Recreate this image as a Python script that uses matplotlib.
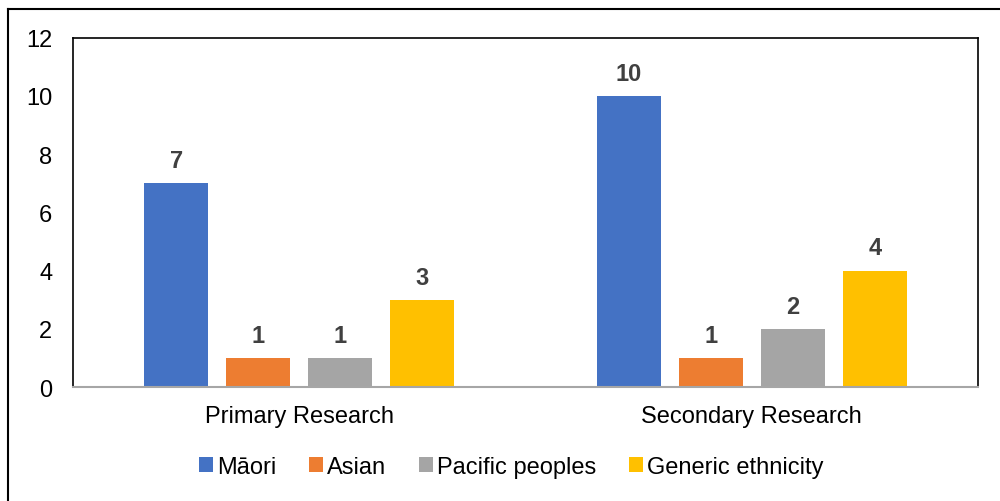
import matplotlib
matplotlib.use("Agg")
import matplotlib.pyplot as plt
from matplotlib.lines import Line2D
import numpy as np

plt.rcParams['font.family'] = ['Liberation Sans', 'DejaVu Sans']

categories = ["Primary Research", "Secondary Research"]
series_names = ["Māori", "Asian", "Pacific peoples", "Generic ethnicity"]
maori = [7, 10]
asian = [1, 1]
pacific = [1, 2]
generic = [3, 4]
y_ticks = [0, 2, 4, 6, 8, 10, 12]

colors = ["#4472C4", "#ED7D31", "#A5A5A5", "#FFC000"]
values = [maori, asian, pacific, generic]

fig = plt.figure(figsize=(10, 5.02), dpi=100)
ax = fig.add_axes([0.073, 0.227, 0.905, 0.696])

x = np.arange(len(categories))
width = 0.1416
step = 0.1814
offsets = (np.arange(4) - 1.5) * step

for vals, off, col, name in zip(values, offsets, colors, series_names):
    bars = ax.bar(x + off, vals, width, color=col, label=name, zorder=2)
    for b, v in zip(bars, vals):
        ax.annotate(str(v), (b.get_x() + b.get_width() / 2, v),
                    xytext=(0, 8), textcoords="offset points",
                    ha="center", va="bottom", fontsize=17,
                    fontweight="bold", color="#404040")

ax.set_xlim(-0.5, 1.5)
ax.set_ylim(0, 12)
ax.set_yticks(y_ticks)
ax.set_yticklabels([str(t) for t in y_ticks], fontsize=17)
ax.set_xticks(x)
ax.set_xticklabels(categories, fontsize=17)
ax.tick_params(axis="y", length=0, pad=15)
ax.tick_params(axis="x", length=0, pad=13)

for side in ["left", "top", "right"]:
    ax.spines[side].set_color("black")
    ax.spines[side].set_linewidth(1.2)
ax.spines["bottom"].set_color("#A6A6A6")
ax.spines["bottom"].set_linewidth(1.5)

# outer frame: left and top edges only
fig.add_artist(Line2D([0.008, 0.008], [0.0, 0.98], transform=fig.transFigure,
                      color="black", lw=1.5))
fig.add_artist(Line2D([0.008, 1.0], [0.98, 0.98], transform=fig.transFigure,
                      color="black", lw=1.5))

fig.legend(loc="center", bbox_to_anchor=(0.511, 0.068), ncol=4, frameon=False,
           fontsize=17, handlelength=0.6, handleheight=0.6, handletextpad=0.15,
           columnspacing=1.4)

fig.savefig("out.png", dpi=100)
